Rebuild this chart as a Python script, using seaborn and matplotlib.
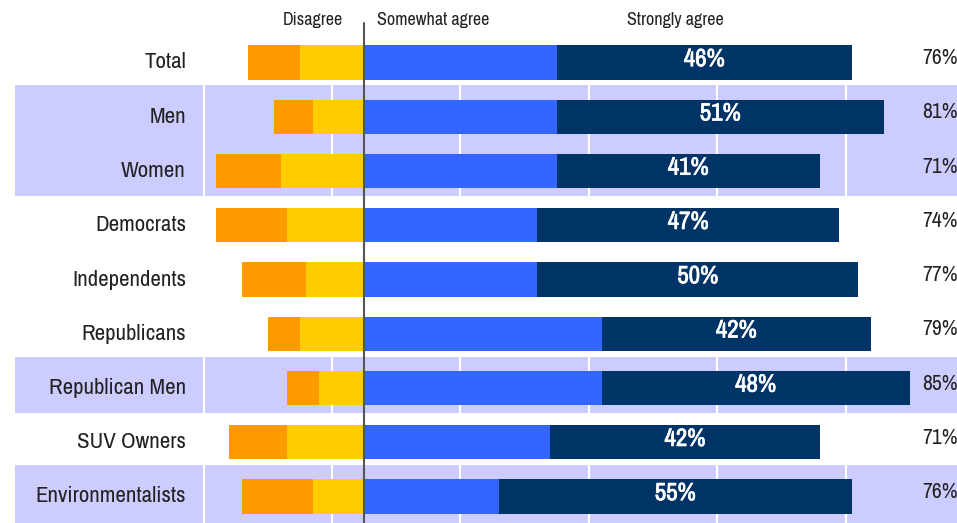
import matplotlib
matplotlib.use("Agg")
import matplotlib.pyplot as plt
from matplotlib import font_manager
import matplotlib.patheffects as pe
import seaborn as sns
import pandas as pd

categories = ["Total", "Men", "Women", "Democrats", "Independents", "Republicans",
              "Republican Men", "SUV Owners", "Environmentalists"]
strongly_disagree = [8, 6, 10, 11, 10, 5, 5, 9, 11]
somewhat_disagree = [10, 8, 13, 12, 9, 10, 7, 12, 8]
somewhat_agree = [30, 30, 30, 27, 27, 37, 37, 29, 21]
strongly_agree = [46, 51, 41, 47, 50, 42, 48, 42, 55]
total_agree = [76, 81, 71, 74, 77, 79, 85, 71, 76]
highlighted = [("Men", "Women"), ("Republican Men", "Republican Men"),
               ("Environmentalists", "Environmentalists")]
header_labels = ["Disagree", "Somewhat agree", "Strongly agree"]

sns.set_theme(style="white")

# pick a condensed font if one is installed
fam, stretch = "Liberation Sans", "normal"
fl = font_manager.fontManager.ttflist
names = {f.name for f in fl}
if "Liberation Sans Narrow" in names:
    fam = "Liberation Sans Narrow"
else:
    cand = [f.name for f in fl if ("Narrow" in f.name or "Condensed" in f.name)]
    if cand:
        fam = sorted(cand)[0]
    else:
        cond = [f for f in fl if f.stretch in ("condensed", "semi-condensed", 300, 400)]
        if cond:
            fam, stretch = cond[0].name, "condensed"
plt.rcParams["font.family"] = [fam, "DejaVu Sans"]
plt.rcParams["font.stretch"] = stretch

df = pd.DataFrame({
    "cat": categories,
    "sd": strongly_disagree, "swd": somewhat_disagree,
    "swa": somewhat_agree, "sa": strongly_agree, "tot": total_agree,
})
df["neg_all"] = -(df["sd"] + df["swd"])
df["neg_sw"] = -df["swd"]
df["agree_all"] = df["swa"] + df["sa"]

fig = plt.figure(figsize=(9.57, 5.23), dpi=100)
ax = fig.add_axes([0, 0, 1, 1])

ORANGE, YELLOW, BLUE, NAVY, BAND = "#FF9900", "#FFCC00", "#3366FF", "#003366", "#CCCCFF"
w = 0.63
kw = dict(width=w, ax=ax, saturation=1, zorder=3, order=categories,
          linewidth=0, edgecolor="none")
sns.barplot(data=df, y="cat", x="agree_all", color=NAVY, **kw)
sns.barplot(data=df, y="cat", x="swa", color=BLUE, **kw)
sns.barplot(data=df, y="cat", x="neg_all", color=ORANGE, **kw)
sns.barplot(data=df, y="cat", x="neg_sw", color=YELLOW, **kw)

px = 6.42
x0 = -364 / px
x1 = (957 - 364) / px
ax.set_xlim(x0, x1)
ytop = (0 - 62.5) / 54.25
ybot = (523 - 62.5) / 54.25
ax.set_ylim(ybot, ytop)

idx = {c: i for i, c in enumerate(categories)}
for a, b in highlighted:
    lo = idx[a] - 0.58
    hi = idx[b] + 0.47
    if idx[b] == len(categories) - 1:
        hi = ybot
    ax.fill_between([(15 - 364) / px, x1], lo, hi, color=BAND, zorder=0, lw=0)

for g in [-25, -5, 15, 35, 55, 75]:
    ax.axvline(g, color="white", lw=1.5, zorder=1)

ax.axvline(0, ymin=0, ymax=1 - 23 / 523, color="#555555", lw=1.5, zorder=5)

medium = [pe.withStroke(linewidth=0.5, foreground="white")]
for i, c in enumerate(categories):
    ax.text((186 - 364) / px, i, c, ha="right", va="center", fontsize=16.5, color="#222222")
    ax.text(df["swa"][i] + df["sa"][i] / 2, i - 0.07, f"{df['sa'][i]}%", ha="center",
            va="center", fontsize=18, color="white", zorder=6, path_effects=medium)
    ax.text((922 - 364) / px, i - 0.08, f"{df['tot'][i]}%", ha="left", va="center",
            fontsize=15.5, color="#222222")

hy = (20 - 62.5) / 54.25
ax.text((313 - 364) / px, hy, header_labels[0], ha="center", va="center", fontsize=13, color="#222222")
ax.text((377 - 364) / px, hy, header_labels[1], ha="left", va="center", fontsize=13, color="#222222")
ax.text((675 - 364) / px, hy, header_labels[2], ha="center", va="center", fontsize=13, color="#222222")

ax.set_axis_off()
fig.savefig("out.png", dpi=100)
